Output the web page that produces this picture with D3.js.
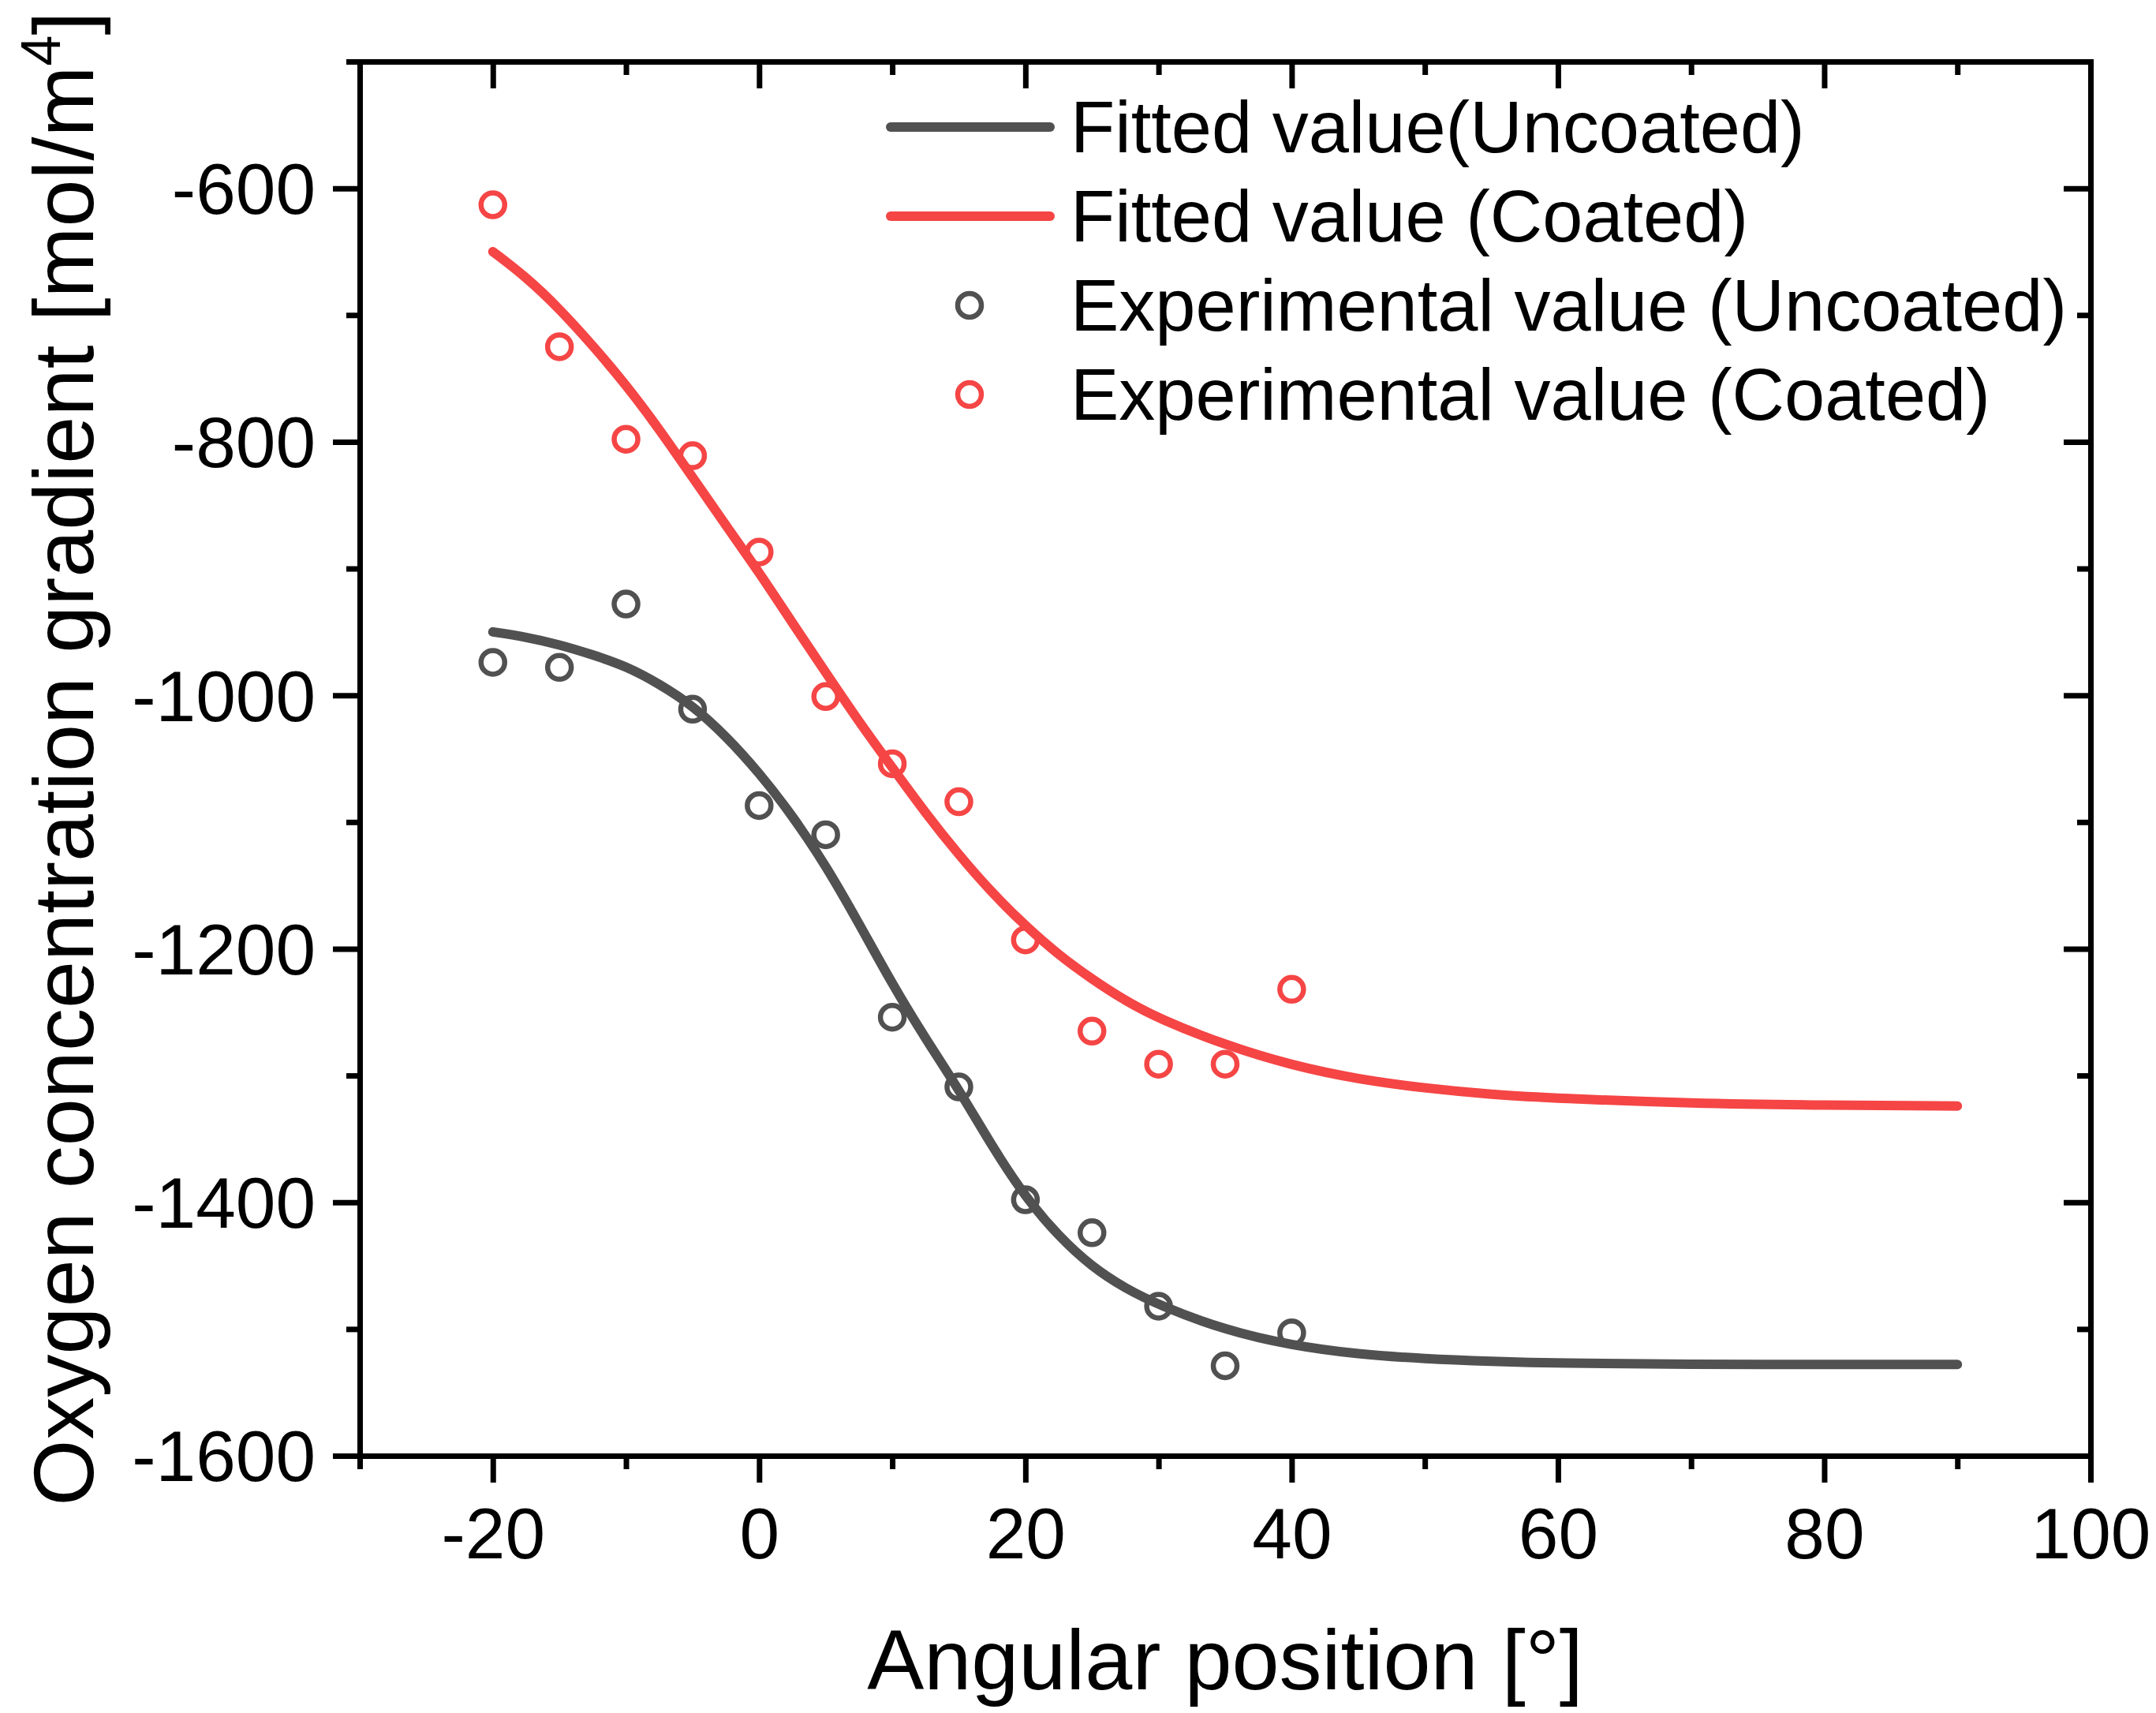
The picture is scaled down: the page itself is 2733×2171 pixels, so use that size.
<!DOCTYPE html>
<html>
<head>
<meta charset="utf-8">
<script src="https://cdn.jsdelivr.net/npm/d3@7"></script>
<style>
  html, body { margin: 0; padding: 0; background: #fff; }
  text { font-family: "Liberation Sans", Arial, sans-serif; fill: #000; }
</style>
</head>
<body>
<div id="chart"></div>
<script>
// angular positions of the measurements
const angles = [-20, -15, -10, -5, 0, 5, 10, 15, 20, 25, 30, 35, 40];
const expUncoated = [-974, -978, -928, -1011, -1087, -1110, -1254, -1309, -1398, -1424, -1482, -1529, -1503];
const expCoated = [-613, -725, -798, -811, -887, -1001, -1054, -1084, -1193, -1265, -1291, -1291, -1232];

// fitted curves
const fitAngles = [-20, -17.5, -15, -12.5, -10, -7.5, -5, -2.5, 0, 2.5, 5, 7.5, 10, 12.5, 15, 17.5, 20, 22.5, 25, 27.5, 30, 35, 40, 45, 50, 55, 60, 70, 80, 90];
const fitUncoated = [-950, -954, -960, -968, -977, -991, -1008, -1032, -1061, -1095, -1134, -1180, -1228, -1271, -1311, -1356, -1396, -1427, -1451, -1468, -1481, -1501, -1513, -1520, -1523.5, -1525.5, -1527, -1528, -1528, -1528];
const fitCoated = [-650, -670, -695, -724, -755, -790, -828, -866, -903, -943, -982, -1021, -1057, -1093, -1126, -1156, -1182, -1205, -1224, -1241, -1255, -1276, -1292, -1303, -1310, -1315, -1318, -1322, -1323.5, -1324];

const xMajor = [-20, 0, 20, 40, 60, 80, 100];
const xMinor = [-30, -10, 10, 30, 50, 70, 90];
const yMajor = [-1600, -1400, -1200, -1000, -800, -600];
const yMinor = [-1500, -1300, -1100, -900, -700, -500];

const legendItems = [
  {label: 'Fitted value(Uncoated)', color: '#515151', type: 'line'},
  {label: 'Fitted value (Coated)', color: '#F54545', type: 'line'},
  {label: 'Experimental value (Uncoated)', color: '#515151', type: 'circle'},
  {label: 'Experimental value (Coated)', color: '#F54545', type: 'circle'}
];

const margin = {top: 78, right: 83, bottom: 326, left: 456},
      width = 2733 - margin.left - margin.right,
      height = 2171 - margin.top - margin.bottom;

const svg = d3.select('#chart').append('svg')
    .attr('width', 2733)
    .attr('height', 2171);

const g = svg.append('g')
    .attr('transform', `translate(${margin.left},${margin.top})`);

const x = d3.scaleLinear().domain([-30, 100]).range([0, width]);
const y = d3.scaleLinear().domain([-1600, -500]).range([height, 0]);

const tickFmt = d => d3.format('d')(d).replace('−', '-');

function styleAxis(sel) {
  sel.selectAll('.domain').attr('stroke', '#000').attr('stroke-width', 7).attr('stroke-linecap', 'square');
  sel.selectAll('.tick line').attr('stroke', '#000').attr('stroke-width', 7);
}

// bottom
g.append('g').attr('transform', `translate(0,${height})`)
  .call(d3.axisBottom(x).tickValues(xMinor).tickSize(17).tickSizeOuter(0).tickFormat(''))
  .call(styleAxis);
g.append('g').attr('transform', `translate(0,${height})`)
  .call(d3.axisBottom(x).tickValues(xMajor).tickSize(34).tickSizeOuter(0).tickFormat(tickFmt))
  .call(styleAxis)
  .call(a => a.selectAll('text').attr('dy', null).attr('y', 130).attr('font-size', 91)
      .attr('font-family', '"Liberation Sans", Arial, sans-serif').attr('fill', '#000'));

// top (inward)
g.append('g')
  .call(d3.axisTop(x).tickValues(xMinor).tickSize(-17).tickSizeOuter(0).tickFormat(''))
  .call(styleAxis);
g.append('g')
  .call(d3.axisTop(x).tickValues(xMajor).tickSize(-34).tickSizeOuter(0).tickFormat(''))
  .call(styleAxis);

// left
g.append('g')
  .call(d3.axisLeft(y).tickValues(yMinor).tickSize(17).tickSizeOuter(0).tickFormat(''))
  .call(styleAxis);
g.append('g')
  .call(d3.axisLeft(y).tickValues(yMajor).tickSize(34).tickPadding(22).tickSizeOuter(0).tickFormat(tickFmt))
  .call(styleAxis)
  .call(a => a.selectAll('text').attr('dy', '0.35em').attr('font-size', 91)
      .attr('font-family', '"Liberation Sans", Arial, sans-serif').attr('fill', '#000'));

// right (inward)
g.append('g').attr('transform', `translate(${width},0)`)
  .call(d3.axisRight(y).tickValues(yMinor).tickSize(-17).tickSizeOuter(0).tickFormat(''))
  .call(styleAxis);
g.append('g').attr('transform', `translate(${width},0)`)
  .call(d3.axisRight(y).tickValues(yMajor).tickSize(-34).tickSizeOuter(0).tickFormat(''))
  .call(styleAxis);

// fitted curves
const line = d3.line()
    .x(d => x(d[0]))
    .y(d => y(d[1]))
    .curve(d3.curveBasis);

[[fitUncoated, '#515151'], [fitCoated, '#F54545']].forEach(([vals, color]) => {
  g.append('path')
    .datum(fitAngles.map((a, i) => [a, vals[i]]))
    .attr('fill', 'none')
    .attr('stroke', color)
    .attr('stroke-width', 12)
    .attr('stroke-linecap', 'round')
    .attr('stroke-linejoin', 'round')
    .attr('d', line);
});

// experimental points
[[expUncoated, '#515151'], [expCoated, '#F54545']].forEach(([vals, color]) => {
  g.append('g').selectAll('circle')
    .data(angles.map((a, i) => [a, vals[i]]))
    .enter().append('circle')
    .attr('cx', d => x(d[0]))
    .attr('cy', d => y(d[1]))
    .attr('r', 15)
    .attr('fill', 'none')
    .attr('stroke', color)
    .attr('stroke-width', 6.5);
});

// legend
const legend = svg.append('g');
legendItems.forEach((item, i) => {
  const cy = 161 + i * 113;
  if (item.type === 'line') {
    legend.append('line')
      .attr('x1', 1129).attr('x2', 1331)
      .attr('y1', cy).attr('y2', cy)
      .attr('stroke', item.color).attr('stroke-width', 12).attr('stroke-linecap', 'round');
  } else {
    legend.append('circle')
      .attr('cx', 1229).attr('cy', cy).attr('r', 15)
      .attr('fill', 'none').attr('stroke', item.color).attr('stroke-width', 6.5);
  }
  legend.append('text')
    .attr('x', 1357).attr('y', cy + 32)
    .attr('font-size', 92)
    .text(item.label);
});

// axis titles
svg.append('text')
  .attr('x', margin.left + width / 2)
  .attr('y', 2141)
  .attr('text-anchor', 'middle')
  .attr('font-size', 108)
  .text('Angular position [°]');

const yTitle = svg.append('text')
  .attr('transform', `translate(118,${margin.top + height / 2}) rotate(-90)`)
  .attr('text-anchor', 'middle')
  .attr('font-size', 108);
yTitle.append('tspan').text('Oxygen concentration gradient [mol/m');
yTitle.append('tspan').attr('font-size', 70).attr('dy', -42).text('4');
yTitle.append('tspan').attr('dy', 42).text(']');
</script>
</body>
</html>
